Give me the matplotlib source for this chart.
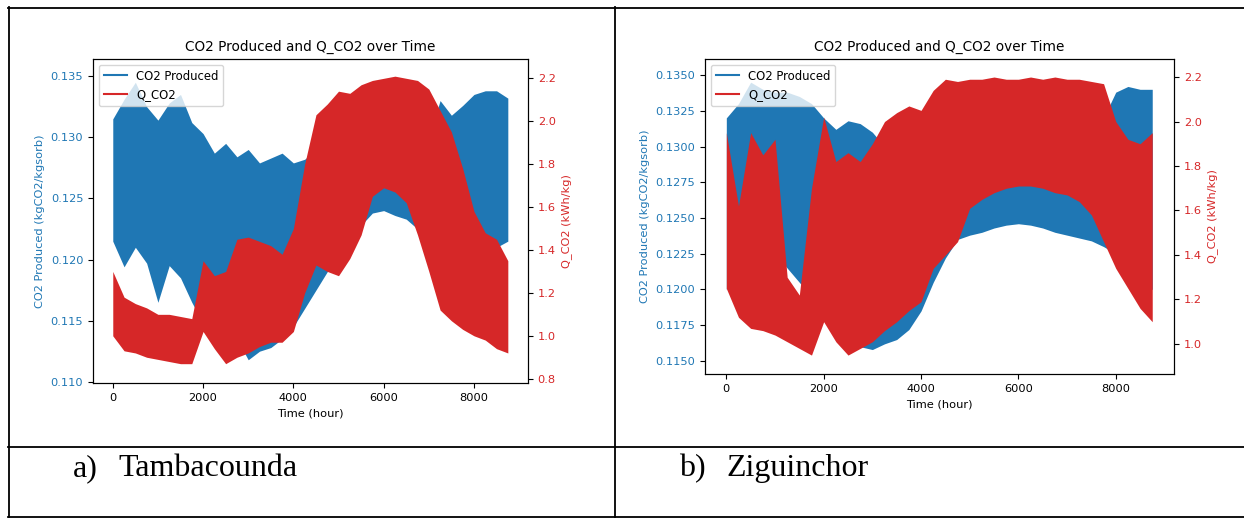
import numpy as np
import matplotlib.pyplot as plt
from matplotlib.lines import Line2D
from matplotlib.ticker import MultipleLocator

hours = np.arange(0, 8760, 250)

# a) Tambacounda - CO2 produced (kgCO2/kgsorb), upper / lower envelope
tamba_co2_hi = [0.1315, 0.1331, 0.1345, 0.1325, 0.1314, 0.1328, 0.1335, 0.1312, 0.1303,
                0.1287, 0.1295, 0.1284, 0.1290, 0.1279, 0.1283, 0.1287, 0.1279, 0.1282,
                0.1290, 0.1295, 0.1300, 0.1300, 0.1300, 0.1300, 0.1300, 0.1300, 0.1300,
                0.1300, 0.1300, 0.1330, 0.1318, 0.1326, 0.1335, 0.1338, 0.1338, 0.1332]
tamba_co2_lo = [0.1215, 0.1194, 0.1210, 0.1197, 0.1165, 0.1195, 0.1185, 0.1165, 0.1148,
                0.1150, 0.1142, 0.1135, 0.1118, 0.1125, 0.1128, 0.1135, 0.1145, 0.1160,
                0.1175, 0.1190, 0.1200, 0.1215, 0.1228, 0.1238, 0.1240, 0.1236, 0.1233,
                0.1225, 0.1215, 0.1205, 0.1200, 0.1198, 0.1200, 0.1205, 0.1210, 0.1215]
# a) Tambacounda - Q_CO2 (kWh/kg)
tamba_q_hi = [1.30, 1.18, 1.15, 1.13, 1.10, 1.10, 1.09, 1.08, 1.35, 1.28, 1.30, 1.45,
              1.46, 1.44, 1.42, 1.38, 1.50, 1.80, 2.03, 2.08, 2.14, 2.13, 2.17, 2.19,
              2.20, 2.21, 2.20, 2.19, 2.15, 2.05, 1.95, 1.78, 1.58, 1.48, 1.45, 1.35]
tamba_q_lo = [1.00, 0.93, 0.92, 0.90, 0.89, 0.88, 0.87, 0.87, 1.02, 0.94, 0.87, 0.90,
              0.92, 0.95, 0.97, 0.97, 1.02, 1.20, 1.33, 1.30, 1.28, 1.36, 1.47, 1.65,
              1.69, 1.67, 1.62, 1.47, 1.30, 1.12, 1.07, 1.03, 1.00, 0.98, 0.94, 0.92]

# b) Ziguinchor - CO2 produced
zig_co2_hi = [0.1320, 0.1330, 0.1345, 0.1340, 0.1338, 0.1338, 0.1335, 0.1330, 0.1320,
              0.1312, 0.1318, 0.1316, 0.1310, 0.1300, 0.1300, 0.1300, 0.1300, 0.1300,
              0.1300, 0.1300, 0.1300, 0.1300, 0.1300, 0.1300, 0.1300, 0.1300, 0.1300,
              0.1300, 0.1300, 0.1305, 0.1310, 0.1320, 0.1338, 0.1342, 0.1340, 0.1340]
zig_co2_lo = [0.1200, 0.1225, 0.1240, 0.1235, 0.1225, 0.1215, 0.1205, 0.1195, 0.1180,
              0.1172, 0.1165, 0.1160, 0.1158, 0.1162, 0.1165, 0.1172, 0.1185, 0.1205,
              0.1222, 0.1235, 0.1238, 0.1240, 0.1243, 0.1245, 0.1246, 0.1245, 0.1243,
              0.1240, 0.1238, 0.1236, 0.1234, 0.1230, 0.1225, 0.1215, 0.1205, 0.1200]
# b) Ziguinchor - Q_CO2
zig_q_hi = [1.95, 1.62, 1.95, 1.85, 1.92, 1.30, 1.22, 1.70, 2.02, 1.82, 1.86, 1.82,
            1.90, 2.00, 2.04, 2.07, 2.05, 2.14, 2.19, 2.18, 2.19, 2.19, 2.20, 2.19,
            2.19, 2.20, 2.19, 2.20, 2.19, 2.19, 2.18, 2.17, 2.00, 1.92, 1.90, 1.95]
zig_q_lo = [1.25, 1.12, 1.07, 1.06, 1.04, 1.01, 0.98, 0.95, 1.10, 1.01, 0.95, 0.98,
            1.01, 1.06, 1.10, 1.15, 1.19, 1.34, 1.40, 1.46, 1.61, 1.65, 1.68, 1.70,
            1.71, 1.71, 1.70, 1.68, 1.67, 1.64, 1.58, 1.46, 1.34, 1.25, 1.16, 1.10]

W, H = 1244, 518
plt.rcParams['font.size'] = 8.2

fig = plt.figure(figsize=(W / 100, H / 100), dpi=100)


def rect(x0, y0, x1, y1):
    # pixel box (top-left origin) -> figure fraction
    return [x0 / W, 1 - y1 / H, (x1 - x0) / W, (y1 - y0) / H]


def panel(box, co2_lo, co2_hi, q_lo, q_hi, co2_lim, q_lim, co2_step):
    ax = fig.add_axes(box)
    ax.fill_between(hours, co2_lo, co2_hi, color='tab:blue', lw=0)
    ax.set_xlim(-438, 9197)
    ax.set_ylim(co2_lim)
    ax.yaxis.set_major_locator(MultipleLocator(co2_step))
    ax.set_xlabel('Time (hour)')
    ax.set_ylabel('CO2 Produced (kgCO2/kgsorb)', color='tab:blue')
    ax.tick_params(axis='y', labelcolor='tab:blue')
    ax.set_title('CO2 Produced and Q_CO2 over Time', fontsize=9.8)

    ax2 = ax.twinx()
    ax2.fill_between(hours, q_lo, q_hi, color='tab:red', lw=0)
    ax2.set_ylim(q_lim)
    ax2.yaxis.set_major_locator(MultipleLocator(0.2))
    ax2.set_ylabel('Q_CO2 (kWh/kg)', color='tab:red')
    ax2.tick_params(axis='y', labelcolor='tab:red')
    handles = [Line2D([], [], color='tab:blue', lw=1.5, label='CO2 Produced'),
               Line2D([], [], color='tab:red', lw=1.5, label='Q_CO2')]
    ax2.legend(handles=handles, loc='upper left', fontsize=8.4)


panel(rect(93, 59, 528, 383), tamba_co2_lo, tamba_co2_hi, tamba_q_lo, tamba_q_hi,
      (0.1099, 0.1364), (0.78, 2.29), 0.005)
panel(rect(705, 59, 1174, 374), zig_co2_lo, zig_co2_hi, zig_q_lo, zig_q_hi,
      (0.11409, 0.13612), (0.865, 2.281), 0.0025)

# table borders
def hline(y, x0, x1):
    fig.add_artist(Line2D([x0 / W, x1 / W], [1 - y / H, 1 - y / H],
                          transform=fig.transFigure, color='black', lw=1.3))


def vline(x, y0, y1):
    fig.add_artist(Line2D([x / W, x / W], [1 - y0 / H, 1 - y1 / H],
                          transform=fig.transFigure, color='black', lw=1.3))


hline(7.5, 8, 1244)
hline(447, 8, 1244)
hline(516.5, 8, 1244)
vline(8.5, 7, 517)
vline(615, 7, 517)

cap = dict(fontsize=23, family='Liberation Serif', va='baseline')
fig.text(73 / W, 1 - 476 / H, 'a)', **cap)
fig.text(118 / W, 1 - 476 / H, 'Tambacounda', **cap)
fig.text(679 / W, 1 - 476 / H, 'b)', **cap)
fig.text(726 / W, 1 - 476 / H, 'Ziguinchor', **cap)

fig.savefig('out.png', dpi=100)
